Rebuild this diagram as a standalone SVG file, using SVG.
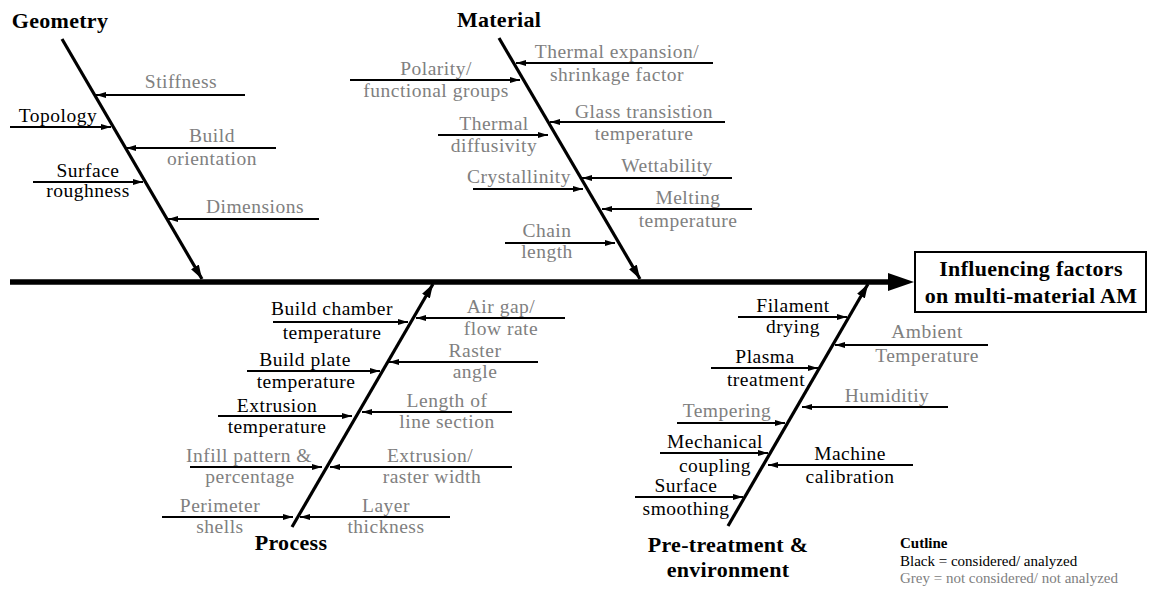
<svg xmlns="http://www.w3.org/2000/svg" width="1149" height="589" viewBox="0 0 1149 589">
<style>
text{font-family:"Liberation Serif","Times New Roman",serif;font-size:19.5px;letter-spacing:0.5px;text-anchor:middle}
.t{font-weight:bold;font-size:22px;letter-spacing:0.3px}
.g{fill:#808080}
.k{fill:#000}
.br{stroke:#000;stroke-width:1.8;fill:none;marker-end:url(#ah)}
.bone{stroke:#000;stroke-width:3.2;fill:none;marker-end:url(#ahb)}
.lg{font-size:15px;letter-spacing:0;text-anchor:start}
</style>
<defs>
<marker id="ah" markerUnits="userSpaceOnUse" viewBox="0 0 10 6" refX="10" refY="3" markerWidth="10" markerHeight="6" orient="auto"><path d="M0,0 L10,3 L0,6 z" fill="#000"/></marker>
<marker id="ahb" markerUnits="userSpaceOnUse" viewBox="0 0 14 9" refX="14" refY="4.5" markerWidth="14" markerHeight="9" orient="auto"><path d="M0,0 L14,4.5 L0,9 z" fill="#000"/></marker>
</defs>
<rect width="1149" height="589" fill="#fff"/>
<g id="connectors">
<line x1="10" y1="282" x2="890" y2="282" stroke="#000" stroke-width="5.5"/>
<path d="M888,273 L914,282 L888,291 z" fill="#000"/>
<line class="bone" x1="62" y1="39" x2="202" y2="279"/>
<line class="bone" x1="499" y1="38" x2="640" y2="279"/>
<line class="bone" x1="292" y1="527" x2="433" y2="284"/>
<line class="bone" x1="728" y1="526" x2="868" y2="284"/>
<line class="br" x1="245" y1="95" x2="96" y2="95"/>
<line class="br" x1="10" y1="127" x2="111" y2="127"/>
<line class="br" x1="276" y1="148" x2="126" y2="148"/>
<line class="br" x1="33" y1="182" x2="143" y2="182"/>
<line class="br" x1="319" y1="219" x2="168" y2="219"/>
<line class="br" x1="713" y1="63" x2="516" y2="63"/>
<line class="br" x1="350" y1="80" x2="520" y2="80"/>
<line class="br" x1="725" y1="122" x2="550" y2="122"/>
<line class="br" x1="438" y1="135" x2="548" y2="135"/>
<line class="br" x1="732" y1="178" x2="582" y2="178"/>
<line class="br" x1="473" y1="189" x2="583" y2="189"/>
<line class="br" x1="752" y1="209" x2="602" y2="209"/>
<line class="br" x1="505" y1="243" x2="615" y2="243"/>
<line class="br" x1="273" y1="322" x2="408" y2="322"/>
<line class="br" x1="565" y1="318" x2="416" y2="318"/>
<line class="br" x1="247" y1="371" x2="380" y2="371"/>
<line class="br" x1="538" y1="362" x2="389" y2="362"/>
<line class="br" x1="218" y1="416" x2="352" y2="416"/>
<line class="br" x1="512" y1="412" x2="362" y2="412"/>
<line class="br" x1="190" y1="467" x2="322" y2="467"/>
<line class="br" x1="512" y1="467" x2="330" y2="467"/>
<line class="br" x1="162" y1="517" x2="293" y2="517"/>
<line class="br" x1="450" y1="517" x2="300" y2="517"/>
<line class="br" x1="738" y1="317" x2="847" y2="317"/>
<line class="br" x1="988" y1="345" x2="835" y2="345"/>
<line class="br" x1="711" y1="368" x2="818" y2="368"/>
<line class="br" x1="948" y1="407" x2="802" y2="407"/>
<line class="br" x1="677" y1="423" x2="785" y2="423"/>
<line class="br" x1="660" y1="453" x2="768" y2="453"/>
<line class="br" x1="913" y1="465" x2="768" y2="465"/>
<line class="br" x1="635" y1="497" x2="743" y2="497"/>
</g>
<g id="result">
<rect x="915" y="252" width="231" height="60" fill="#fff" stroke="#000" stroke-width="2"/>
<text class="t" x="1031" y="276" font-size="23" letter-spacing="0.5">Influencing factors</text>
<text class="t" x="1031" y="303" font-size="23" letter-spacing="0.5">on multi-material AM</text>
</g>
<g id="geometry"><text class="t" x="60" y="28">Geometry</text></g>
<g id="stiffness"><text class="g" x="181" y="88">Stiffness</text></g>
<g id="topology"><text class="k" x="58" y="122">Topology</text></g>
<g id="build-orientation"><text class="g" x="212" y="142">Build</text><text class="g" x="212" y="165">orientation</text></g>
<g id="surface-roughness"><text class="k" x="88" y="177">Surface</text><text class="k" x="88" y="197">roughness</text></g>
<g id="dimensions"><text class="g" x="255" y="213">Dimensions</text></g>
<g id="material"><text class="t" x="499" y="27">Material</text></g>
<g id="thermal-expansion"><text class="g" x="617" y="58">Thermal expansion/</text><text class="g" x="617" y="81">shrinkage factor</text></g>
<g id="polarity"><text class="g" x="436" y="75">Polarity/</text><text class="g" x="436" y="97">functional groups</text></g>
<g id="glass-transition"><text class="g" x="644" y="118">Glass transistion</text><text class="g" x="644" y="140">temperature</text></g>
<g id="thermal-diffusivity"><text class="g" x="494" y="130">Thermal</text><text class="g" x="494" y="152">diffusivity</text></g>
<g id="wettability"><text class="g" x="667" y="172">Wettability</text></g>
<g id="crystallinity"><text class="g" x="519" y="183">Crystallinity</text></g>
<g id="melting"><text class="g" x="688" y="204">Melting</text><text class="g" x="688" y="227">temperature</text></g>
<g id="chain-length"><text class="g" x="547" y="237">Chain</text><text class="g" x="547" y="258">length</text></g>
<g id="process"><text class="t" x="291" y="550">Process</text></g>
<g id="build-chamber"><text class="k" x="332" y="315">Build chamber</text><text class="k" x="332" y="339">temperature</text></g>
<g id="air-gap"><text class="g" x="501" y="313">Air gap/</text><text class="g" x="501" y="335">flow rate</text></g>
<g id="build-plate"><text class="k" x="305" y="366">Build plate</text><text class="k" x="306" y="388">temperature</text></g>
<g id="raster-angle"><text class="g" x="475" y="357">Raster</text><text class="g" x="475" y="378">angle</text></g>
<g id="extrusion-temperature"><text class="k" x="277" y="412">Extrusion</text><text class="k" x="277" y="433">temperature</text></g>
<g id="line-section"><text class="g" x="447" y="407">Length of</text><text class="g" x="447" y="428">line section</text></g>
<g id="infill"><text class="g" x="249" y="462">Infill pattern &amp;</text><text class="g" x="250" y="483">percentage</text></g>
<g id="raster-width"><text class="g" x="430" y="462">Extrusion/</text><text class="g" x="432" y="483">raster width</text></g>
<g id="perimeter"><text class="g" x="220" y="512">Perimeter</text><text class="g" x="220" y="533">shells</text></g>
<g id="layer"><text class="g" x="386" y="512">Layer</text><text class="g" x="386" y="533">thickness</text></g>
<g id="pretreatment"><text class="t" x="728" y="552">Pre-treatment &amp;</text><text class="t" x="728" y="577">environment</text></g>
<g id="filament-drying"><text class="k" x="793" y="312">Filament</text><text class="k" x="793" y="333">drying</text></g>
<g id="ambient"><text class="g" x="927" y="338">Ambient</text><text class="g" x="927" y="362">Temperature</text></g>
<g id="plasma"><text class="k" x="765" y="363">Plasma</text><text class="k" x="766" y="386">treatment</text></g>
<g id="humidity"><text class="g" x="887" y="402">Humiditiy</text></g>
<g id="tempering"><text class="g" x="727" y="417">Tempering</text></g>
<g id="mechanical"><text class="k" x="715" y="448">Mechanical</text><text class="k" x="715" y="472">coupling</text></g>
<g id="machine"><text class="k" x="850" y="460">Machine</text><text class="k" x="850" y="483">calibration</text></g>
<g id="surface-smoothing"><text class="k" x="686" y="492">Surface</text><text class="k" x="686" y="515">smoothing</text></g>
<g id="legend">
<text class="lg" x="900" y="548" font-weight="bold">Cutline</text>
<text class="lg" x="900" y="566">Black = considered/ analyzed</text>
<text class="lg g" x="900" y="583">Grey = not considered/ not analyzed</text>
</g>
</svg>
